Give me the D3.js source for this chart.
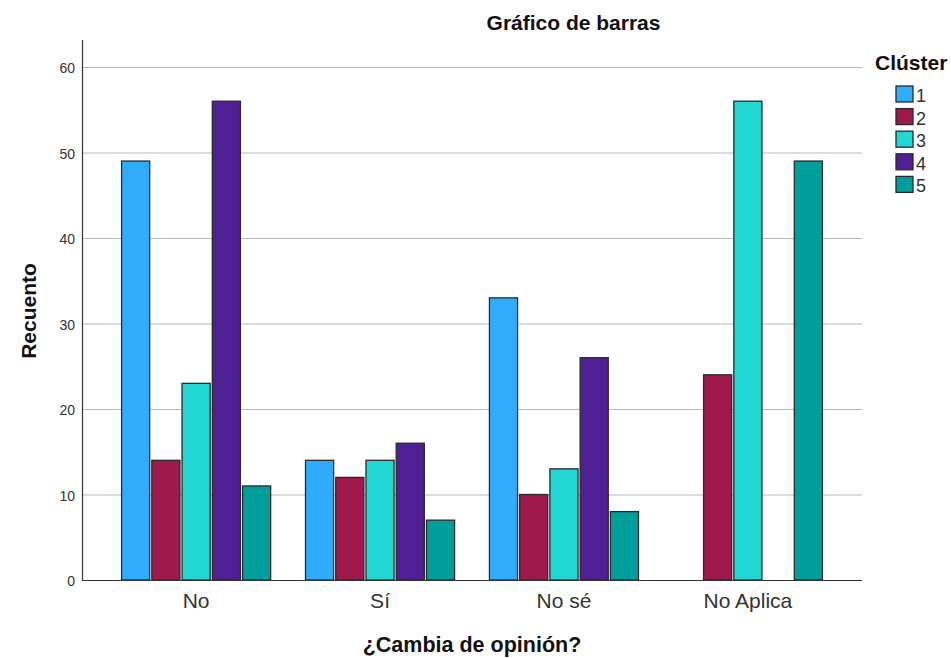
<!DOCTYPE html>
<html>
<head>
<meta charset="utf-8">
<script src="https://cdn.jsdelivr.net/npm/d3@7"></script>
<style>
  html, body { margin: 0; padding: 0; background: #fff; }
  svg { display: block; font-family: "Liberation Sans", Arial, sans-serif; }
</style>
</head>
<body>
<svg id="chart" width="951" height="658"></svg>
<script>
const categories = ["No", "Sí", "No sé", "No Aplica"];
const clusters = ["1", "2", "3", "4", "5"];
const values1 = [49, 14, 33, null];
const values2 = [14, 12, 10, 24];
const values3 = [23, 14, 13, 56];
const values4 = [56, 16, 26, null];
const values5 = [11, 7, 8, 49];
const yTicks = [0, 10, 20, 30, 40, 50, 60];
const colors = ["#30ACFF", "#A0194C", "#22D6D3", "#4F2093", "#009E9A"];

const series = [values1, values2, values3, values4, values5];
const data = categories.map((c, i) => ({
  cat: c,
  vals: clusters.map((k, j) => ({ k, v: series[j][i] }))
}));

const svg = d3.select("#chart");
const mLeft = 82, mRight = 862, mTop = 40, mBottom = 580;

const y = d3.scaleLinear().domain([0, 60]).range([mBottom, 67]);
const x0 = d3.scaleBand().domain(categories).range([mLeft, mRight])
  .paddingInner(0.183).paddingOuter(0.212);
const x1 = d3.scaleBand().domain(clusters).range([0, x0.bandwidth()]).paddingInner(0.07).paddingOuter(0.02);
const color = d3.scaleOrdinal().domain(clusters).range(colors);

// gridlines
svg.append("g").selectAll("line").data(yTicks.filter(d => d > 0)).join("line")
  .attr("x1", mLeft).attr("x2", mRight)
  .attr("y1", d => y(d) + 0.5).attr("y2", d => y(d) + 0.5)
  .attr("stroke", "#b9b9b9").attr("stroke-width", 1);

// y tick labels
const yAxis = d3.axisLeft(y).tickValues(yTicks).tickSize(0).tickPadding(7);
const gy = svg.append("g").attr("transform", `translate(${mLeft},0)`).call(yAxis);
gy.select(".domain").remove();
gy.selectAll("text").attr("font-size", 14).attr("fill", "#333").attr("dy", "0.4em")
  .attr("font-family", "Liberation Sans, Arial, sans-serif");

// bars
const groups = svg.append("g").selectAll("g").data(data).join("g")
  .attr("transform", d => `translate(${x0(d.cat)},0)`);
groups.selectAll("rect").data(d => d.vals.filter(e => e.v != null)).join("rect")
  .attr("x", d => x1(d.k))
  .attr("y", d => y(d.v))
  .attr("width", x1.bandwidth())
  .attr("height", d => y(0) - y(d.v))
  .attr("fill", d => color(d.k))
  .attr("stroke", "#2a2a2a").attr("stroke-width", 1.3);

// axes lines
svg.append("line").attr("x1", mLeft + 0.5).attr("x2", mLeft + 0.5).attr("y1", mTop).attr("y2", mBottom)
  .attr("stroke", "#333").attr("stroke-width", 1.2);
const xAxis = d3.axisBottom(x0).tickSize(0).tickPadding(13);
const gx = svg.append("g").attr("transform", `translate(0,${mBottom})`).call(xAxis);
gx.select(".domain").attr("stroke", "#333").attr("stroke-width", 1.2)
  .attr("d", `M${mLeft},0.5H${mRight}`);
gx.selectAll("text").attr("font-size", 21).attr("fill", "#333")
  .attr("font-family", "Liberation Sans, Arial, sans-serif");

// title
svg.append("text").attr("x", 573.5).attr("y", 30).attr("text-anchor", "middle")
  .attr("font-size", 21).attr("font-weight", "bold").attr("fill", "#111")
  .text("Gráfico de barras");

// axis titles
svg.append("text").attr("x", (mLeft + mRight) / 2).attr("y", 652).attr("text-anchor", "middle")
  .attr("font-size", 21.5).attr("font-weight", "bold").attr("fill", "#111")
  .text("¿Cambia de opinión?");
svg.append("text").attr("transform", "translate(36,311) rotate(-90)").attr("text-anchor", "middle")
  .attr("font-size", 21).attr("font-weight", "bold").attr("fill", "#111")
  .text("Recuento");

// legend
svg.append("text").attr("x", 875).attr("y", 70)
  .attr("font-size", 21).attr("font-weight", "bold").attr("fill", "#111")
  .text("Clúster");
const lg = svg.append("g").selectAll("g").data(clusters).join("g")
  .attr("transform", (d, i) => `translate(896,${86 + i * 22.6})`);
lg.append("rect").attr("width", 17).attr("height", 16)
  .attr("fill", d => color(d)).attr("stroke", "#2a2a2a").attr("stroke-width", 1.3);
lg.append("text").attr("x", 20).attr("y", 16)
  .attr("font-size", 18).attr("fill", "#333").text(d => d);
</script>
</body>
</html>
